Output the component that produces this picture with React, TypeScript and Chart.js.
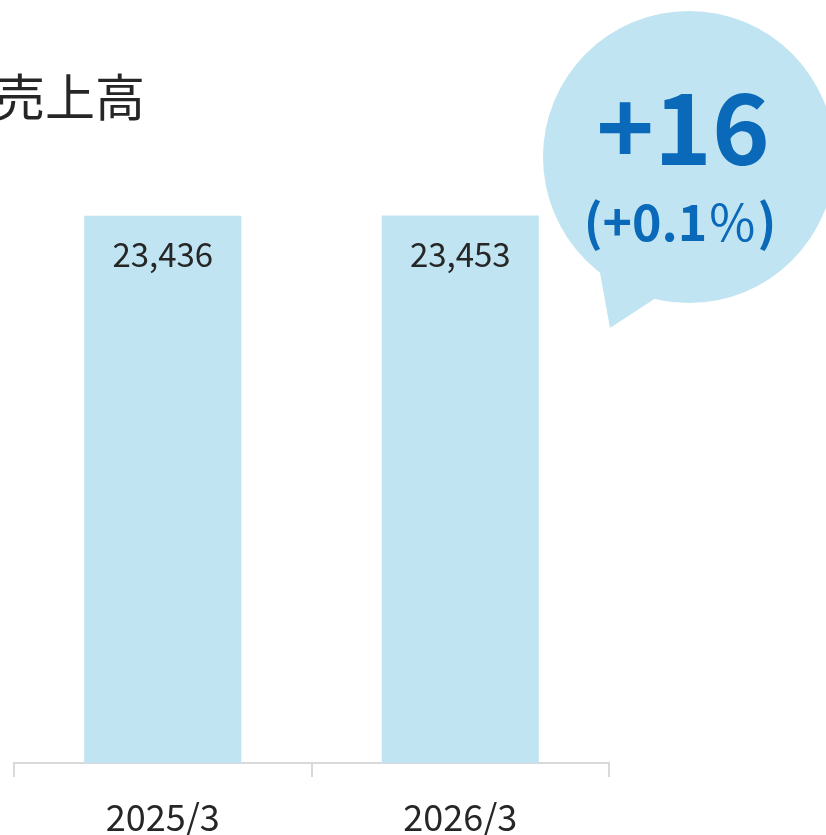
import React, { useEffect, useRef } from "react";
import { Chart, registerables } from "chart.js";

Chart.register(...registerables);

const TITLE = "売上高";
const CATEGORIES = ["2025/3", "2026/3"];
const SALES = [23436, 23453];
const DIFF_TEXT = "+16";
const PCT_PARTS = ["(+0.1", "%", ")"];
const Y_MAX = 26000;

const FONT = '"Noto Sans CJK JP", "Noto Sans", sans-serif';
const BAR_COLOR = "#c1e4f2";
const TEXT_BLUE = "#0a69b8";

const annotPlugin = {
  id: "annot",
  afterDatasetsDraw(chart: any) {
    const ctx = chart.ctx as CanvasRenderingContext2D;
    const meta = chart.getDatasetMeta(0);
    ctx.save();
    // value labels
    ctx.fillStyle = "#262626";
    ctx.font = `33px ${FONT}`;
    ctx.textAlign = "center";
    ctx.textBaseline = "middle";
    meta.data.forEach((bar: any, i: number) => {
      ctx.fillText(SALES[i].toLocaleString("en-US"), bar.x, bar.y + 39);
    });
    // title
    ctx.textAlign = "left";
    ctx.font = `50px ${FONT}`;
    ctx.fillText(TITLE, -5, 97);
    // bubble
    ctx.fillStyle = BAR_COLOR;
    ctx.beginPath();
    ctx.arc(689, 157, 146, 0, Math.PI * 2);
    ctx.fill();
    ctx.beginPath();
    ctx.moveTo(598, 262);
    ctx.lineTo(610, 328);
    ctx.lineTo(662, 294);
    ctx.closePath();
    ctx.fill();
    // bubble text
    ctx.fillStyle = TEXT_BLUE;
    ctx.textBaseline = "alphabetic";
    ctx.textAlign = "center";
    ctx.font = `bold 98px ${FONT}`;
    ctx.fillText(DIFF_TEXT, 683, 165);
    const fonts = [`bold 50px ${FONT}`, `50px ${FONT}`, `bold 50px ${FONT}`];
    const spacing = 2;
    let total = 0;
    const widths = PCT_PARTS.map((p, i) => {
      ctx.font = fonts[i];
      const w = ctx.measureText(p).width + spacing;
      total += w;
      return w;
    });
    let x = 681 - total / 2;
    ctx.textAlign = "left";
    PCT_PARTS.forEach((p, i) => {
      ctx.font = fonts[i];
      ctx.fillText(p, x, 241);
      x += widths[i];
    });
    ctx.restore();
  },
};

export default function App() {
  const ref = useRef<HTMLCanvasElement>(null);
  useEffect(() => {
    if (!ref.current) return;
    const chart = new Chart(ref.current, {
      type: "bar",
      data: {
        labels: CATEGORIES,
        datasets: [
          {
            data: SALES,
            backgroundColor: BAR_COLOR,
            borderWidth: 0,
            barPercentage: 0.528,
            categoryPercentage: 1,
          },
        ],
      },
      options: {
        animation: false,
        responsive: false,
        devicePixelRatio: 1,
        layout: { padding: { left: 14, right: 217, top: 156, bottom: -22 } },
        plugins: { legend: { display: false }, tooltip: { enabled: false }, title: { display: false } },
        scales: {
          x: {
            offset: true,
            grid: {
              offset: true,
              drawOnChartArea: false,
              drawTicks: true,
              tickLength: 14,
              color: "#d9d9d9",
              lineWidth: 2,
            },
            border: { display: true, color: "#d9d9d9", width: 2 },
            ticks: {
              color: "#262626",
              padding: 22,
              font: { family: FONT, size: 36, lineHeight: 1 },
            },
          },
          y: { display: false, min: 0, max: Y_MAX },
        },
      },
      plugins: [annotPlugin],
    });
    return () => chart.destroy();
  }, []);
  return (
    <div style={{ position: "absolute", left: 0, top: 0, width: 826, height: 835, overflow: "hidden", background: "#fff" }}>
      <canvas ref={ref} width={826} height={835} />
    </div>
  );
}
